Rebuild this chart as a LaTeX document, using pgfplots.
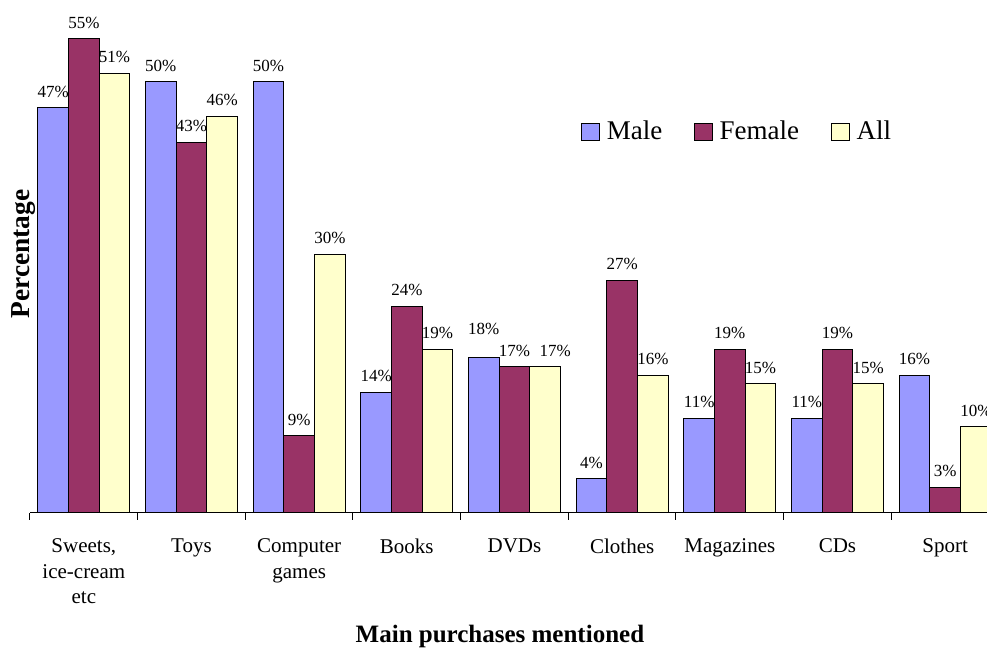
\documentclass[border=0pt]{standalone}
\usepackage{fontspec}
\setmainfont{Liberation Serif}
\usepackage{pgfplots}
\pgfplotsset{compat=1.18}
\usepackage{pgfplotstable}
\definecolor{male}{HTML}{9999FF}
\definecolor{female}{HTML}{993366}
\definecolor{allc}{HTML}{FFFFCC}

\pgfplotstableread{
x male female all
0 47 55 51
1 50 43 46
2 50 9 30
3 14 24 19
4 18 17 17
5 4 27 16
6 11 19 15
7 11 19 15
8 16 3 10
}\data

\begin{document}
\begin{tikzpicture}
\begin{axis}[
 scale only axis, width=484.5pt, height=256.5pt,
 xmin=-0.5, xmax=8.5, ymin=0, ymax=59.5,
 ybar=0pt, bar width=0.285,
 axis x line*=bottom, axis y line=none,
 x axis line style={-, line width=0.5pt, black},
 xtick={0,...,8}, major tick length=0pt,
 xticklabels={{Sweets,\\ice-cream\\etc},Toys,{Computer\\games},Books,DVDs,Clothes,Magazines,CDs,Sport},
 xticklabel style={align=center, font=\fontsize{10.5}{12.8}\selectfont, yshift=-9.4pt},
 minor xtick={-0.5,0.5,...,8.5}, minor tick length=3.5pt, tick align=outside,
 tick style={black, line width=0.5pt},
 ytick=\empty,
 clip=false,
 nodes near coords={\pgfmathprintnumber{\pgfplotspointmeta}\%},
 every node near coord/.append style={font=\fontsize{8.5}{10}\selectfont, yshift=1.5pt, black},
 /pgf/number format/assume math mode=true,
 legend columns=3,
 legend style={draw=none, fill=none, at={(0.5687,0.7427)}, anchor=west, inner sep=0pt,
   font=\fontsize{13.5}{16}\selectfont,
   nodes={inner sep=0pt},
   /tikz/every odd column/.append style={column sep=3.5pt},
   /tikz/every even column/.append style={column sep=16pt}},
]
\addplot[fill=male, draw=black, line width=0.5pt,
  visualization depends on={value \coordindex \as \idx},
  every node near coord/.append style={yshift={(\idx==4)*6.5}},
  legend image code/.code={\draw[fill=male,draw=black,line width=0.5pt] (0pt,-4.35pt) rectangle (8.7pt,4.35pt);}]
  table[x=x,y=male]{\data};
\addplot[fill=female, draw=black, line width=0.5pt,
  legend image code/.code={\draw[fill=female,draw=black,line width=0.5pt] (0pt,-4.35pt) rectangle (8.7pt,4.35pt);}]
  table[x=x,y=female]{\data};
\addplot[fill=allc, draw=black, line width=0.5pt,
  visualization depends on={value \coordindex \as \idx},
  every node near coord/.append style={xshift={(\idx==4)*5}},
  legend image code/.code={\draw[fill=allc,draw=black,line width=0.5pt] (0pt,-4.35pt) rectangle (8.7pt,4.35pt);}]
  table[x=x,y=all]{\data};
\legend{Male,Female,All}
\node[rotate=90, font=\bfseries\fontsize{13.7}{16}\selectfont] at (rel axis cs:-0.0062,0.505) {Percentage};
\node[font=\bfseries\fontsize{12.5}{15}\selectfont] at (rel axis cs:0.485,-0.2417) {Main purchases mentioned};
\coordinate (bl) at (rel axis cs:-0.03096,-0.269);
\coordinate (tr) at (rel axis cs:0.98762,1);
\end{axis}
\pgfresetboundingbox
\path[use as bounding box] (bl) rectangle (tr);
\end{tikzpicture}
\end{document}
